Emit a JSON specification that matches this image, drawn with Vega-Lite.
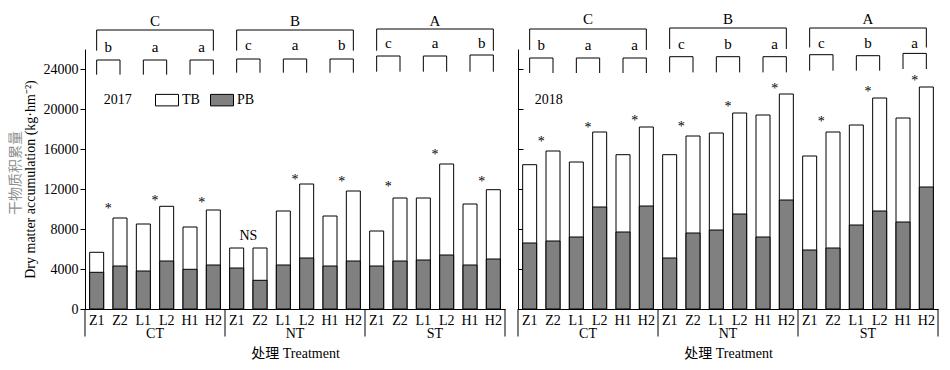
{
  "$schema": "https://vega.github.io/schema/vega-lite/v6.json",
  "padding": {"left": 8, "top": 11, "right": 5, "bottom": 5},
  "config": {"font": "Liberation Serif", "view": {"stroke": null}},
  "bounds": "flush",
  "spacing": 13,
  "resolve": {"scale": {"x": "independent", "y": "independent", "fill": "independent"}, "legend": {"fill": "independent"}},
  "datasets": {
    "bars": [
      {"year": 2017, "key": "CT-Z1", "TB": 5670, "PB": 3670},
      {"year": 2017, "key": "CT-Z2", "TB": 9100, "PB": 4300},
      {"year": 2017, "key": "CT-L1", "TB": 8500, "PB": 3800},
      {"year": 2017, "key": "CT-L2", "TB": 10270, "PB": 4800},
      {"year": 2017, "key": "CT-H1", "TB": 8200, "PB": 3970},
      {"year": 2017, "key": "CT-H2", "TB": 9900, "PB": 4400},
      {"year": 2017, "key": "NT-Z1", "TB": 6100, "PB": 4100},
      {"year": 2017, "key": "NT-Z2", "TB": 6100, "PB": 2870},
      {"year": 2017, "key": "NT-L1", "TB": 9800, "PB": 4400},
      {"year": 2017, "key": "NT-L2", "TB": 12500, "PB": 5100},
      {"year": 2017, "key": "NT-H1", "TB": 9300, "PB": 4300},
      {"year": 2017, "key": "NT-H2", "TB": 11800, "PB": 4800},
      {"year": 2017, "key": "ST-Z1", "TB": 7800, "PB": 4300},
      {"year": 2017, "key": "ST-Z2", "TB": 11100, "PB": 4800},
      {"year": 2017, "key": "ST-L1", "TB": 11100, "PB": 4900},
      {"year": 2017, "key": "ST-L2", "TB": 14500, "PB": 5400},
      {"year": 2017, "key": "ST-H1", "TB": 10500, "PB": 4400},
      {"year": 2017, "key": "ST-H2", "TB": 11930, "PB": 5000},
      {"year": 2018, "key": "CT-Z1", "TB": 14430, "PB": 6600},
      {"year": 2018, "key": "CT-Z2", "TB": 15800, "PB": 6800},
      {"year": 2018, "key": "CT-L1", "TB": 14700, "PB": 7200},
      {"year": 2018, "key": "CT-L2", "TB": 17700, "PB": 10200},
      {"year": 2018, "key": "CT-H1", "TB": 15430, "PB": 7700},
      {"year": 2018, "key": "CT-H2", "TB": 18200, "PB": 10300},
      {"year": 2018, "key": "NT-Z1", "TB": 15430, "PB": 5100},
      {"year": 2018, "key": "NT-Z2", "TB": 17300, "PB": 7600},
      {"year": 2018, "key": "NT-L1", "TB": 17600, "PB": 7900},
      {"year": 2018, "key": "NT-L2", "TB": 19600, "PB": 9500},
      {"year": 2018, "key": "NT-H1", "TB": 19400, "PB": 7200},
      {"year": 2018, "key": "NT-H2", "TB": 21500, "PB": 10900},
      {"year": 2018, "key": "ST-Z1", "TB": 15300, "PB": 5900},
      {"year": 2018, "key": "ST-Z2", "TB": 17700, "PB": 6100},
      {"year": 2018, "key": "ST-L1", "TB": 18400, "PB": 8400},
      {"year": 2018, "key": "ST-L2", "TB": 21100, "PB": 9800},
      {"year": 2018, "key": "ST-H1", "TB": 19100, "PB": 8700},
      {"year": 2018, "key": "ST-H2", "TB": 22200, "PB": 12200}
    ],
    "pairs": [
      {"year": 2017, "a": "CT-Z1", "b": "CT-Z2", "sig": "*", "sigY": 10000, "letter": "b", "top": 24900, "bottom": 23430, "base": 25680},
      {"year": 2017, "a": "CT-L1", "b": "CT-L2", "sig": "*", "sigY": 10800, "letter": "a", "top": 24900, "bottom": 23430, "base": 25680},
      {"year": 2017, "a": "CT-H1", "b": "CT-H2", "sig": "*", "sigY": 10600, "letter": "a", "top": 24900, "bottom": 23430, "base": 25680},
      {"year": 2017, "a": "NT-Z1", "b": "NT-Z2", "sig": "NS", "sigY": 7300, "letter": "c", "top": 25000, "bottom": 23630, "base": 25880},
      {"year": 2017, "a": "NT-L1", "b": "NT-L2", "sig": "*", "sigY": 12900, "letter": "a", "top": 25000, "bottom": 23630, "base": 25880},
      {"year": 2017, "a": "NT-H1", "b": "NT-H2", "sig": "*", "sigY": 12700, "letter": "b", "top": 25000, "bottom": 23630, "base": 25880},
      {"year": 2017, "a": "ST-Z1", "b": "ST-Z2", "sig": "*", "sigY": 12200, "letter": "c", "top": 25300, "bottom": 23730, "base": 26080},
      {"year": 2017, "a": "ST-L1", "b": "ST-L2", "sig": "*", "sigY": 15400, "letter": "a", "top": 25300, "bottom": 23730, "base": 26080},
      {"year": 2017, "a": "ST-H1", "b": "ST-H2", "sig": "*", "sigY": 12700, "letter": "b", "top": 25400, "bottom": 23730, "base": 26080},
      {"year": 2018, "a": "CT-Z1", "b": "CT-Z2", "sig": "*", "sigY": 16700, "letter": "b", "top": 25100, "bottom": 23600, "base": 25900},
      {"year": 2018, "a": "CT-L1", "b": "CT-L2", "sig": "*", "sigY": 18100, "letter": "a", "top": 25100, "bottom": 23600, "base": 25900},
      {"year": 2018, "a": "CT-H1", "b": "CT-H2", "sig": "*", "sigY": 18800, "letter": "a", "top": 25100, "bottom": 23600, "base": 25900},
      {"year": 2018, "a": "NT-Z1", "b": "NT-Z2", "sig": "*", "sigY": 18200, "letter": "c", "top": 25230, "bottom": 23660, "base": 26000},
      {"year": 2018, "a": "NT-L1", "b": "NT-L2", "sig": "*", "sigY": 20200, "letter": "b", "top": 25230, "bottom": 23660, "base": 26000},
      {"year": 2018, "a": "NT-H1", "b": "NT-H2", "sig": "*", "sigY": 22000, "letter": "a", "top": 25230, "bottom": 23660, "base": 26000},
      {"year": 2018, "a": "ST-Z1", "b": "ST-Z2", "sig": "*", "sigY": 18700, "letter": "c", "top": 25430, "bottom": 23830, "base": 26150},
      {"year": 2018, "a": "ST-L1", "b": "ST-L2", "sig": "*", "sigY": 21700, "letter": "b", "top": 25330, "bottom": 23830, "base": 26150},
      {"year": 2018, "a": "ST-H1", "b": "ST-H2", "sig": "*", "sigY": 22800, "letter": "a", "top": 25560, "bottom": 24000, "base": 26150}
    ],
    "groups": [
      {"year": 2017, "first": "CT-Z1", "mid": "CT-L1", "last": "CT-H2", "label": "CT", "letter": "C", "top": 27900, "bottom": 25830, "base": 28330},
      {"year": 2017, "first": "NT-Z1", "mid": "NT-L1", "last": "NT-H2", "label": "NT", "letter": "B", "top": 27900, "bottom": 25830, "base": 28330},
      {"year": 2017, "first": "ST-Z1", "mid": "ST-L1", "last": "ST-H2", "label": "ST", "letter": "A", "top": 28000, "bottom": 25830, "base": 28330},
      {"year": 2018, "first": "CT-Z1", "mid": "CT-L1", "last": "CT-H2", "label": "CT", "letter": "C", "top": 28000, "bottom": 25900, "base": 28500},
      {"year": 2018, "first": "NT-Z1", "mid": "NT-L1", "last": "NT-H2", "label": "NT", "letter": "B", "top": 28100, "bottom": 26000, "base": 28500},
      {"year": 2018, "first": "ST-Z1", "mid": "ST-L1", "last": "ST-H2", "label": "ST", "letter": "A", "top": 28100, "bottom": 26150, "base": 28500}
    ]
  },
  "hconcat": [
    {
      "width": 420,
      "height": 260,
      "layer": [
        {
          "data": {"name": "bars"},
          "transform": [{"filter": "datum.year == 2017"}, {"fold": ["TB", "PB"], "as": ["part", "value"]}],
          "mark": {"type": "bar", "stroke": "black", "strokeWidth": 1},
          "encoding": {
            "x": {"field": "key", "type": "nominal", "scale": {"domain": ["CT-Z1","CT-Z2","CT-L1","CT-L2","CT-H1","CT-H2","NT-Z1","NT-Z2","NT-L1","NT-L2","NT-H1","NT-H2","ST-Z1","ST-Z2","ST-L1","ST-L2","ST-H1","ST-H2"], "paddingInner": 0.4, "paddingOuter": 0.2},
              "axis": {"title": "处理 Treatment", "titleFont": "Liberation Serif, Noto Sans CJK SC", "titleFontSize": 14, "titleFontWeight": "normal", "titleColor": "black", "titlePadding": 19, "labelExpr": "split(datum.value, '-')[1]", "labelAngle": 0, "labelFontSize": 14, "labelColor": "black", "labelPadding": 4, "ticks": false, "tickSize": 0, "domainColor": "black", "grid": false}},
            "y": {"field": "value", "type": "quantitative", "stack": null, "scale": {"domain": [0, 26000], "nice": false},
              "axis": {"title": "Dry matter accumulation (kg·hm⁻²)", "titleFontSize": 14, "titleFontWeight": "normal", "titleColor": "black", "titlePadding": 6, "values": [0, 4000, 8000, 12000, 16000, 20000, 24000], "format": "d", "labelFontSize": 14, "labelColor": "black", "labelPadding": 2, "tickSize": 5, "tickColor": "black", "domainColor": "black", "grid": false}},
            "fill": {"field": "part", "type": "nominal", "scale": {"domain": ["TB", "PB"], "range": ["white", "#808080"]},
              "legend": {"orient": "none", "legendX": 70, "legendY": 39, "direction": "horizontal", "title": null, "symbolType": "M-1,-0.5H1V0.5H-1Z", "symbolSize": 529, "symbolStrokeColor": "black", "symbolStrokeWidth": 1, "symbolOpacity": 1, "labelFontSize": 14, "labelColor": "black", "labelOffset": 3, "columnPadding": 8}}
          }
        },
        {
          "data": {"name": "pairs"},
          "transform": [{"filter": "datum.year == 2017"}],
          "mark": {"type": "rule", "stroke": "black", "strokeWidth": 1},
          "encoding": {
            "x": {"field": "a", "type": "nominal", "scale": {"domain": ["CT-Z1","CT-Z2","CT-L1","CT-L2","CT-H1","CT-H2","NT-Z1","NT-Z2","NT-L1","NT-L2","NT-H1","NT-H2","ST-Z1","ST-Z2","ST-L1","ST-L2","ST-H1","ST-H2"], "paddingInner": 0.4, "paddingOuter": 0.2}},
            "x2": {"field": "b"},
            "y": {"field": "top", "type": "quantitative", "scale": {"domain": [0, 26000], "nice": false}}
          }
        },
        {
          "data": {"name": "pairs"},
          "transform": [{"filter": "datum.year == 2017"}, {"fold": ["a", "b"], "as": ["side", "pos"]}],
          "mark": {"type": "rule", "stroke": "black", "strokeWidth": 1},
          "encoding": {
            "x": {"field": "pos", "type": "nominal", "scale": {"domain": ["CT-Z1","CT-Z2","CT-L1","CT-L2","CT-H1","CT-H2","NT-Z1","NT-Z2","NT-L1","NT-L2","NT-H1","NT-H2","ST-Z1","ST-Z2","ST-L1","ST-L2","ST-H1","ST-H2"], "paddingInner": 0.4, "paddingOuter": 0.2}},
            "y": {"field": "top", "type": "quantitative", "scale": {"domain": [0, 26000], "nice": false}},
            "y2": {"field": "bottom"}
          }
        },
        {
          "data": {"name": "pairs"},
          "transform": [{"filter": "datum.year == 2017"}],
          "mark": {"type": "text", "dx": 11.667, "fontSize": 15, "baseline": "alphabetic", "align": "center", "color": "black"},
          "encoding": {
            "x": {"field": "a", "type": "nominal", "scale": {"domain": ["CT-Z1","CT-Z2","CT-L1","CT-L2","CT-H1","CT-H2","NT-Z1","NT-Z2","NT-L1","NT-L2","NT-H1","NT-H2","ST-Z1","ST-Z2","ST-L1","ST-L2","ST-H1","ST-H2"], "paddingInner": 0.4, "paddingOuter": 0.2}},
            "y": {"field": "base", "type": "quantitative", "scale": {"domain": [0, 26000], "nice": false}},
            "text": {"field": "letter", "type": "nominal"}
          }
        },
        {
          "data": {"name": "pairs"},
          "transform": [{"filter": "datum.year == 2017"}],
          "mark": {"type": "text", "dx": 11.667, "fontSize": 14, "baseline": "middle", "align": "center", "color": "black"},
          "encoding": {
            "x": {"field": "a", "type": "nominal", "scale": {"domain": ["CT-Z1","CT-Z2","CT-L1","CT-L2","CT-H1","CT-H2","NT-Z1","NT-Z2","NT-L1","NT-L2","NT-H1","NT-H2","ST-Z1","ST-Z2","ST-L1","ST-L2","ST-H1","ST-H2"], "paddingInner": 0.4, "paddingOuter": 0.2}},
            "y": {"field": "sigY", "type": "quantitative", "scale": {"domain": [0, 26000], "nice": false}},
            "text": {"field": "sig", "type": "nominal"}
          }
        },
        {
          "data": {"name": "groups"},
          "transform": [{"filter": "datum.year == 2017"}],
          "mark": {"type": "rule", "stroke": "black", "strokeWidth": 1},
          "encoding": {
            "x": {"field": "first", "type": "nominal", "scale": {"domain": ["CT-Z1","CT-Z2","CT-L1","CT-L2","CT-H1","CT-H2","NT-Z1","NT-Z2","NT-L1","NT-L2","NT-H1","NT-H2","ST-Z1","ST-Z2","ST-L1","ST-L2","ST-H1","ST-H2"], "paddingInner": 0.4, "paddingOuter": 0.2}},
            "x2": {"field": "last"},
            "y": {"field": "top", "type": "quantitative", "scale": {"domain": [0, 26000], "nice": false}}
          }
        },
        {
          "data": {"name": "groups"},
          "transform": [{"filter": "datum.year == 2017"}, {"fold": ["first", "last"], "as": ["side", "pos"]}],
          "mark": {"type": "rule", "stroke": "black", "strokeWidth": 1},
          "encoding": {
            "x": {"field": "pos", "type": "nominal", "scale": {"domain": ["CT-Z1","CT-Z2","CT-L1","CT-L2","CT-H1","CT-H2","NT-Z1","NT-Z2","NT-L1","NT-L2","NT-H1","NT-H2","ST-Z1","ST-Z2","ST-L1","ST-L2","ST-H1","ST-H2"], "paddingInner": 0.4, "paddingOuter": 0.2}},
            "y": {"field": "top", "type": "quantitative", "scale": {"domain": [0, 26000], "nice": false}},
            "y2": {"field": "bottom"}
          }
        },
        {
          "data": {"name": "groups"},
          "transform": [{"filter": "datum.year == 2017"}],
          "mark": {"type": "text", "dx": 11.667, "fontSize": 15, "baseline": "alphabetic", "align": "center", "color": "black"},
          "encoding": {
            "x": {"field": "mid", "type": "nominal", "scale": {"domain": ["CT-Z1","CT-Z2","CT-L1","CT-L2","CT-H1","CT-H2","NT-Z1","NT-Z2","NT-L1","NT-L2","NT-H1","NT-H2","ST-Z1","ST-Z2","ST-L1","ST-L2","ST-H1","ST-H2"], "paddingInner": 0.4, "paddingOuter": 0.2}},
            "y": {"field": "base", "type": "quantitative", "scale": {"domain": [0, 26000], "nice": false}},
            "text": {"field": "letter", "type": "nominal"}
          }
        },
        {
          "data": {"name": "groups"},
          "transform": [{"filter": "datum.year == 2017"}],
          "mark": {"type": "text", "dx": 11.667, "dy": 25, "fontSize": 14, "baseline": "middle", "align": "center", "color": "black"},
          "encoding": {
            "x": {"field": "mid", "type": "nominal", "scale": {"domain": ["CT-Z1","CT-Z2","CT-L1","CT-L2","CT-H1","CT-H2","NT-Z1","NT-Z2","NT-L1","NT-L2","NT-H1","NT-H2","ST-Z1","ST-Z2","ST-L1","ST-L2","ST-H1","ST-H2"], "paddingInner": 0.4, "paddingOuter": 0.2}},
            "y": {"datum": 0, "type": "quantitative", "scale": {"domain": [0, 26000], "nice": false}},
            "text": {"field": "label", "type": "nominal"}
          }
        },
        {
          "data": {"name": "groups"},
          "transform": [{"filter": "datum.year == 2017"}],
          "mark": {"type": "rule", "stroke": "black", "strokeWidth": 1, "xOffset": 4.667},
          "encoding": {
            "x": {"field": "last", "type": "nominal", "bandPosition": 1, "scale": {"domain": ["CT-Z1","CT-Z2","CT-L1","CT-L2","CT-H1","CT-H2","NT-Z1","NT-Z2","NT-L1","NT-L2","NT-H1","NT-H2","ST-Z1","ST-Z2","ST-L1","ST-L2","ST-H1","ST-H2"], "paddingInner": 0.4, "paddingOuter": 0.2}},
            "y": {"datum": 0, "type": "quantitative", "scale": {"domain": [0, 26000], "nice": false}},
            "y2": {"datum": -2750}
          }
        },
        {
          "data": {"name": "groups"},
          "transform": [{"filter": "datum.year == 2017 && datum.label == 'CT'"}],
          "mark": {"type": "rule", "stroke": "black", "strokeWidth": 1, "xOffset": -4.667},
          "encoding": {
            "x": {"field": "first", "type": "nominal", "bandPosition": 0, "scale": {"domain": ["CT-Z1","CT-Z2","CT-L1","CT-L2","CT-H1","CT-H2","NT-Z1","NT-Z2","NT-L1","NT-L2","NT-H1","NT-H2","ST-Z1","ST-Z2","ST-L1","ST-L2","ST-H1","ST-H2"], "paddingInner": 0.4, "paddingOuter": 0.2}},
            "y": {"datum": 0, "type": "quantitative", "scale": {"domain": [0, 26000], "nice": false}},
            "y2": {"datum": -2750}
          }
        },
        {
          "data": {"name": "groups"},
          "transform": [{"filter": "datum.year == 2017 && datum.label == 'CT'"}],
          "mark": {"type": "text", "dx": 7, "fontSize": 14, "baseline": "middle", "align": "left", "color": "black"},
          "encoding": {
            "x": {"field": "first", "type": "nominal", "scale": {"domain": ["CT-Z1","CT-Z2","CT-L1","CT-L2","CT-H1","CT-H2","NT-Z1","NT-Z2","NT-L1","NT-L2","NT-H1","NT-H2","ST-Z1","ST-Z2","ST-L1","ST-L2","ST-H1","ST-H2"], "paddingInner": 0.4, "paddingOuter": 0.2}},
            "y": {"datum": 20930, "type": "quantitative", "scale": {"domain": [0, 26000], "nice": false}},
            "text": {"field": "year", "type": "nominal"}
          }
        },
        {
          "data": {"name": "groups"},
          "transform": [{"filter": "datum.year == 2017 && datum.label == 'CT'"}],
          "mark": {"type": "text", "dy": -81, "angle": 270, "fontSize": 14, "font": "Noto Sans CJK SC", "baseline": "middle", "align": "center", "color": "#8f8f8f"},
          "encoding": {
            "x": {"field": "first", "type": "nominal", "scale": {"domain": ["CT-Z1","CT-Z2","CT-L1","CT-L2","CT-H1","CT-H2","NT-Z1","NT-Z2","NT-L1","NT-L2","NT-H1","NT-H2","ST-Z1","ST-Z2","ST-L1","ST-L2","ST-H1","ST-H2"], "paddingInner": 0.4, "paddingOuter": 0.2}},
            "y": {"datum": 13600, "type": "quantitative", "scale": {"domain": [0, 26000], "nice": false}},
            "text": {"value": "干物质积累量"}
          }
        }
      ]
    },
    {
      "width": 420,
      "height": 260,
      "layer": [
        {
          "data": {"name": "bars"},
          "transform": [{"filter": "datum.year == 2018"}, {"fold": ["TB", "PB"], "as": ["part", "value"]}],
          "mark": {"type": "bar", "stroke": "black", "strokeWidth": 1},
          "encoding": {
            "x": {"field": "key", "type": "nominal", "scale": {"domain": ["CT-Z1","CT-Z2","CT-L1","CT-L2","CT-H1","CT-H2","NT-Z1","NT-Z2","NT-L1","NT-L2","NT-H1","NT-H2","ST-Z1","ST-Z2","ST-L1","ST-L2","ST-H1","ST-H2"], "paddingInner": 0.4, "paddingOuter": 0.2},
              "axis": {"title": "处理 Treatment", "titleFont": "Liberation Serif, Noto Sans CJK SC", "titleFontSize": 14, "titleFontWeight": "normal", "titleColor": "black", "titlePadding": 19, "labelExpr": "split(datum.value, '-')[1]", "labelAngle": 0, "labelFontSize": 14, "labelColor": "black", "labelPadding": 4, "ticks": false, "tickSize": 0, "domainColor": "black", "grid": false}},
            "y": {"field": "value", "type": "quantitative", "stack": null, "scale": {"domain": [0, 26000], "nice": false},
              "axis": {"title": null, "values": [0, 4000, 8000, 12000, 16000, 20000, 24000], "labels": false, "tickSize": -5, "tickColor": "black", "domainColor": "black", "grid": false}},
            "fill": {"field": "part", "type": "nominal", "scale": {"domain": ["TB", "PB"], "range": ["white", "#808080"]}, "legend": null}
          }
        },
        {
          "data": {"name": "pairs"},
          "transform": [{"filter": "datum.year == 2018"}],
          "mark": {"type": "rule", "stroke": "black", "strokeWidth": 1},
          "encoding": {
            "x": {"field": "a", "type": "nominal", "scale": {"domain": ["CT-Z1","CT-Z2","CT-L1","CT-L2","CT-H1","CT-H2","NT-Z1","NT-Z2","NT-L1","NT-L2","NT-H1","NT-H2","ST-Z1","ST-Z2","ST-L1","ST-L2","ST-H1","ST-H2"], "paddingInner": 0.4, "paddingOuter": 0.2}},
            "x2": {"field": "b"},
            "y": {"field": "top", "type": "quantitative", "scale": {"domain": [0, 26000], "nice": false}}
          }
        },
        {
          "data": {"name": "pairs"},
          "transform": [{"filter": "datum.year == 2018"}, {"fold": ["a", "b"], "as": ["side", "pos"]}],
          "mark": {"type": "rule", "stroke": "black", "strokeWidth": 1},
          "encoding": {
            "x": {"field": "pos", "type": "nominal", "scale": {"domain": ["CT-Z1","CT-Z2","CT-L1","CT-L2","CT-H1","CT-H2","NT-Z1","NT-Z2","NT-L1","NT-L2","NT-H1","NT-H2","ST-Z1","ST-Z2","ST-L1","ST-L2","ST-H1","ST-H2"], "paddingInner": 0.4, "paddingOuter": 0.2}},
            "y": {"field": "top", "type": "quantitative", "scale": {"domain": [0, 26000], "nice": false}},
            "y2": {"field": "bottom"}
          }
        },
        {
          "data": {"name": "pairs"},
          "transform": [{"filter": "datum.year == 2018"}],
          "mark": {"type": "text", "dx": 11.667, "fontSize": 15, "baseline": "alphabetic", "align": "center", "color": "black"},
          "encoding": {
            "x": {"field": "a", "type": "nominal", "scale": {"domain": ["CT-Z1","CT-Z2","CT-L1","CT-L2","CT-H1","CT-H2","NT-Z1","NT-Z2","NT-L1","NT-L2","NT-H1","NT-H2","ST-Z1","ST-Z2","ST-L1","ST-L2","ST-H1","ST-H2"], "paddingInner": 0.4, "paddingOuter": 0.2}},
            "y": {"field": "base", "type": "quantitative", "scale": {"domain": [0, 26000], "nice": false}},
            "text": {"field": "letter", "type": "nominal"}
          }
        },
        {
          "data": {"name": "pairs"},
          "transform": [{"filter": "datum.year == 2018"}],
          "mark": {"type": "text", "dx": 11.667, "fontSize": 14, "baseline": "middle", "align": "center", "color": "black"},
          "encoding": {
            "x": {"field": "a", "type": "nominal", "scale": {"domain": ["CT-Z1","CT-Z2","CT-L1","CT-L2","CT-H1","CT-H2","NT-Z1","NT-Z2","NT-L1","NT-L2","NT-H1","NT-H2","ST-Z1","ST-Z2","ST-L1","ST-L2","ST-H1","ST-H2"], "paddingInner": 0.4, "paddingOuter": 0.2}},
            "y": {"field": "sigY", "type": "quantitative", "scale": {"domain": [0, 26000], "nice": false}},
            "text": {"field": "sig", "type": "nominal"}
          }
        },
        {
          "data": {"name": "groups"},
          "transform": [{"filter": "datum.year == 2018"}],
          "mark": {"type": "rule", "stroke": "black", "strokeWidth": 1},
          "encoding": {
            "x": {"field": "first", "type": "nominal", "scale": {"domain": ["CT-Z1","CT-Z2","CT-L1","CT-L2","CT-H1","CT-H2","NT-Z1","NT-Z2","NT-L1","NT-L2","NT-H1","NT-H2","ST-Z1","ST-Z2","ST-L1","ST-L2","ST-H1","ST-H2"], "paddingInner": 0.4, "paddingOuter": 0.2}},
            "x2": {"field": "last"},
            "y": {"field": "top", "type": "quantitative", "scale": {"domain": [0, 26000], "nice": false}}
          }
        },
        {
          "data": {"name": "groups"},
          "transform": [{"filter": "datum.year == 2018"}, {"fold": ["first", "last"], "as": ["side", "pos"]}],
          "mark": {"type": "rule", "stroke": "black", "strokeWidth": 1},
          "encoding": {
            "x": {"field": "pos", "type": "nominal", "scale": {"domain": ["CT-Z1","CT-Z2","CT-L1","CT-L2","CT-H1","CT-H2","NT-Z1","NT-Z2","NT-L1","NT-L2","NT-H1","NT-H2","ST-Z1","ST-Z2","ST-L1","ST-L2","ST-H1","ST-H2"], "paddingInner": 0.4, "paddingOuter": 0.2}},
            "y": {"field": "top", "type": "quantitative", "scale": {"domain": [0, 26000], "nice": false}},
            "y2": {"field": "bottom"}
          }
        },
        {
          "data": {"name": "groups"},
          "transform": [{"filter": "datum.year == 2018"}],
          "mark": {"type": "text", "dx": 11.667, "fontSize": 15, "baseline": "alphabetic", "align": "center", "color": "black"},
          "encoding": {
            "x": {"field": "mid", "type": "nominal", "scale": {"domain": ["CT-Z1","CT-Z2","CT-L1","CT-L2","CT-H1","CT-H2","NT-Z1","NT-Z2","NT-L1","NT-L2","NT-H1","NT-H2","ST-Z1","ST-Z2","ST-L1","ST-L2","ST-H1","ST-H2"], "paddingInner": 0.4, "paddingOuter": 0.2}},
            "y": {"field": "base", "type": "quantitative", "scale": {"domain": [0, 26000], "nice": false}},
            "text": {"field": "letter", "type": "nominal"}
          }
        },
        {
          "data": {"name": "groups"},
          "transform": [{"filter": "datum.year == 2018"}],
          "mark": {"type": "text", "dx": 11.667, "dy": 25, "fontSize": 14, "baseline": "middle", "align": "center", "color": "black"},
          "encoding": {
            "x": {"field": "mid", "type": "nominal", "scale": {"domain": ["CT-Z1","CT-Z2","CT-L1","CT-L2","CT-H1","CT-H2","NT-Z1","NT-Z2","NT-L1","NT-L2","NT-H1","NT-H2","ST-Z1","ST-Z2","ST-L1","ST-L2","ST-H1","ST-H2"], "paddingInner": 0.4, "paddingOuter": 0.2}},
            "y": {"datum": 0, "type": "quantitative", "scale": {"domain": [0, 26000], "nice": false}},
            "text": {"field": "label", "type": "nominal"}
          }
        },
        {
          "data": {"name": "groups"},
          "transform": [{"filter": "datum.year == 2018"}],
          "mark": {"type": "rule", "stroke": "black", "strokeWidth": 1, "xOffset": 4.667},
          "encoding": {
            "x": {"field": "last", "type": "nominal", "bandPosition": 1, "scale": {"domain": ["CT-Z1","CT-Z2","CT-L1","CT-L2","CT-H1","CT-H2","NT-Z1","NT-Z2","NT-L1","NT-L2","NT-H1","NT-H2","ST-Z1","ST-Z2","ST-L1","ST-L2","ST-H1","ST-H2"], "paddingInner": 0.4, "paddingOuter": 0.2}},
            "y": {"datum": 0, "type": "quantitative", "scale": {"domain": [0, 26000], "nice": false}},
            "y2": {"datum": -2750}
          }
        },
        {
          "data": {"name": "groups"},
          "transform": [{"filter": "datum.year == 2018 && datum.label == 'CT'"}],
          "mark": {"type": "rule", "stroke": "black", "strokeWidth": 1, "xOffset": -4.667},
          "encoding": {
            "x": {"field": "first", "type": "nominal", "bandPosition": 0, "scale": {"domain": ["CT-Z1","CT-Z2","CT-L1","CT-L2","CT-H1","CT-H2","NT-Z1","NT-Z2","NT-L1","NT-L2","NT-H1","NT-H2","ST-Z1","ST-Z2","ST-L1","ST-L2","ST-H1","ST-H2"], "paddingInner": 0.4, "paddingOuter": 0.2}},
            "y": {"datum": 0, "type": "quantitative", "scale": {"domain": [0, 26000], "nice": false}},
            "y2": {"datum": -2750}
          }
        },
        {
          "data": {"name": "groups"},
          "transform": [{"filter": "datum.year == 2018 && datum.label == 'CT'"}],
          "mark": {"type": "text", "dx": 5, "fontSize": 14, "baseline": "middle", "align": "left", "color": "black"},
          "encoding": {
            "x": {"field": "first", "type": "nominal", "scale": {"domain": ["CT-Z1","CT-Z2","CT-L1","CT-L2","CT-H1","CT-H2","NT-Z1","NT-Z2","NT-L1","NT-L2","NT-H1","NT-H2","ST-Z1","ST-Z2","ST-L1","ST-L2","ST-H1","ST-H2"], "paddingInner": 0.4, "paddingOuter": 0.2}},
            "y": {"datum": 20930, "type": "quantitative", "scale": {"domain": [0, 26000], "nice": false}},
            "text": {"field": "year", "type": "nominal"}
          }
        }
      ]
    }
  ]
}
